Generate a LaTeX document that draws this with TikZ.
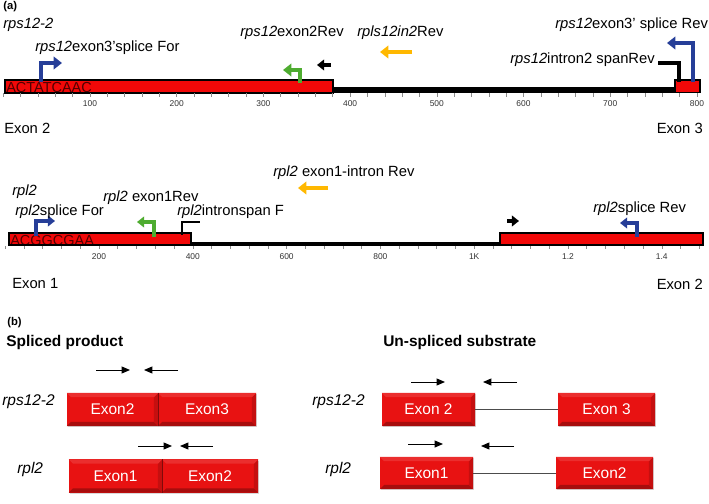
\documentclass[tikz,border=0pt]{standalone}
\usepackage{fontspec}
\setmainfont{Liberation Sans}
\usetikzlibrary{arrows.meta, positioning, shadows}

\definecolor{trackred}{RGB}{242,8,8}
\definecolor{seqred}{RGB}{80,0,0}
\definecolor{exred}{RGB}{232,18,18}
\definecolor{primerblue}{RGB}{38,62,152}
\definecolor{primergreen}{RGB}{78,172,48}
\definecolor{primerorange}{RGB}{255,184,0}

\tikzset{
  lbl/.style={font=\fontsize{10.5}{12}\selectfont, inner sep=0pt, anchor=west},
  head/.style={font=\bfseries\fontsize{11}{13}\selectfont, inner sep=0pt, anchor=west},
  panel/.style={font=\bfseries\fontsize{8}{9}\selectfont, inner sep=0pt, anchor=west},
  ticklbl/.style={font=\fontsize{6}{7}\selectfont, inner sep=0pt, text=black!80},
  tickmark/.style={black!45, line width=0.4pt},
  seq/.style={font=\fontsize{10.3}{12}\selectfont, text=seqred, inner sep=0pt, anchor=base west},
  primer/.style={line width=3.2pt, -{Triangle[length=6pt, width=9pt]}},
  smallprimer/.style={line width=2.6pt, -{Triangle[length=5pt, width=7.5pt]}},
  bracket/.style={line width=2.2pt},
  pcr/.style={line width=0.7pt, -{Triangle[length=6pt, width=5pt]}},
  seam/.style={exred!55!black, line width=0.5pt},
  exonbox/.style={fill=exred, text=white, font=\fontsize{11}{13}\selectfont,
    minimum height=0.825cm, inner sep=0pt, outer sep=0pt,
    drop shadow={opacity=0.3, shadow xshift=0.6pt, shadow yshift=-0.8pt},
    path picture={
      \fill[exred!72!black] (path picture bounding box.south west) -- ++(3pt,3pt)
        -- ([shift={(-3pt,3pt)}]path picture bounding box.south east)
        -- (path picture bounding box.south east) -- cycle;
      \fill[exred!85!black] (path picture bounding box.south east) -- ++(-3pt,3pt)
        -- ([shift={(-3pt,-3pt)}]path picture bounding box.north east)
        -- (path picture bounding box.north east) -- cycle;
      \fill[exred!88!white] (path picture bounding box.north west) -- ++(3pt,-3pt)
        -- ([shift={(-3pt,-3pt)}]path picture bounding box.north east)
        -- (path picture bounding box.north east) -- cycle;
    }},
}

\begin{document}
\begin{tikzpicture}[x=0.025cm, y=-0.025cm, >=Stealth]
  \useasboundingbox (0,0) rectangle (709,504);

  % (a) rps12-2 track
  \node[panel] (pa) at (3,7) {(a)};
  \node[lbl] (gA) at (3,25) {\textit{rps12-2}};
  \fill[trackred] (5,80) rectangle (333,93);
  \begin{scope}
    \clip (5,80) rectangle (333,93);
    \node[seq] (seqA) at (6,92.5) {ACTATCAAC};
  \end{scope}
  \draw[line width=0.8pt] (5,80) rectangle (333,93);
  \fill (333,87) rectangle (675,93);
  \draw[fill=trackred, line width=0.8pt] (675,80) rectangle (700,92.5);

  % escala 0-800
  \foreach \u in {0,20,...,800}
    \draw[tickmark] ({3.3+0.867*\u},93.5) -- ++(0,3.5);
  \foreach \u in {100,200,...,800}
    \node[ticklbl] (tA\u) at ({3.3+0.867*\u},104) {\u};

  % primers rps12
  \draw[primer, primerblue] (41,82) |- (62,63);
  \node[lbl] (pA1) at (35,48) {\textit{rps12}exon3'splice For};
  \draw[primer, primergreen, line width=2.8pt] (300,83) |- (283,70);
  \node[lbl] (pA2) at (240,33) {\textit{rps12}exon2Rev};
  \draw[smallprimer, black] (331,65) -- (317,65);
  \draw[primer, primerorange, line width=3pt] (412,52) -- (380,52);
  \node[lbl] (pA3) at (357,33) {\textit{rpls12in2}Rev};
  \draw[primer, primerblue] (693,82) |- (667,43);
  \node[lbl] (pA4) at (555,25) {\textit{rps12}exon3' splice Rev};
  \draw[bracket] (658,63) -| (679,82);
  \node[lbl] (pA5) at (510,60) {\textit{rps12}intron2 spanRev};

  \node[lbl] (exA2) at (4,128) {Exon 2};
  \node[lbl, anchor=east] (exA3) at (703,128) {Exon 3};

  % rpl2 track
  \node[lbl] (gB) at (12,192) {\textit{rpl2}};
  \fill[trackred] (9,233) rectangle (191,245);
  \begin{scope}
    \clip (9,233) rectangle (191,245);
    \node[seq] (seqB) at (10,245) {ACGGCGAA};
  \end{scope}
  \draw[line width=0.8pt] (9,233) rectangle (191,245);
  \fill (191,242.3) rectangle (500,245.8);
  \draw[fill=trackred, line width=0.8pt] (500,233) rectangle (703,245);

  % escala 0-1.5K
  \foreach \u in {0,40,...,1480}
    \draw[tickmark] ({5.2+0.469*\u},246) -- ++(0,3.5);
  \foreach \u/\t in {200/200,400/400,600/600,800/800,1000/1K,1200/1.2,1400/1.4}
    \node[ticklbl] (tB\u) at ({5.2+0.469*\u},257) {\t};

  % primers rpl2
  \draw[smallprimer, primerblue] (36,236) |- (55,221);
  \node[lbl] (pB1) at (15,212) {\textit{rpl2}splice For};
  \draw[smallprimer, primergreen] (154,237) |- (137,222);
  \node[lbl] (pB2) at (103,198) {\textit{rpl2} exon1Rev};
  \draw[bracket, line width=1.8pt] (182,235) |- (200,222);
  \node[lbl] (pB3) at (177,212) {\textit{rpl2}intronspan F};
  \draw[primer, primerorange, line width=3pt] (328,188) -- (298,188);
  \node[lbl] (pB4) at (273,173) {\textit{rpl2} exon1-intron Rev};
  \draw[smallprimer, black, line width=2.2pt] (507,221) -- (519,221);
  \draw[smallprimer, primerblue] (637,237) |- (620,223);
  \node[lbl] (pB5) at (593,209) {\textit{rpl2}splice Rev};

  \node[lbl] (exB1) at (12,283) {Exon 1};
  \node[lbl, anchor=east] (exB2) at (703,284) {Exon 2};

  % (b) spliced product
  \node[panel] (pb) at (7,323) {(b)};
  \node[head] (hS) at (6,342) {Spliced product};
  \node[lbl, font=\fontsize{11}{13}\selectfont] (gS1) at (2,402) {\textit{rps12-2}};
  \node[exonbox, minimum width=2.275cm] (se2) at (112.5,409.5) {Exon2};
  \node[exonbox, minimum width=2.45cm, right=0pt of se2] (se3) {Exon3};
  \draw[seam] (se2.north east) -- (se2.south east);
  \draw[pcr] (96,370) -- (130,370);
  \draw[pcr] (178,370) -- (144,370);
  \node[lbl, font=\fontsize{11}{13}\selectfont] (gS2) at (17,469) {\textit{rpl2}};
  \node[exonbox, minimum width=2.325cm] (sr1) at (115.5,476) {Exon1};
  \node[exonbox, minimum width=2.4cm, right=0pt of sr1] (sr2) {Exon2};
  \draw[seam] (sr1.north east) -- (sr1.south east);
  \draw[pcr] (138,446) -- (172,446);
  \draw[pcr] (213,446) -- (180,446);

  % un-spliced substrate
  \node[head] (hU) at (383,342) {Un-spliced substrate};
  \node[lbl, font=\fontsize{11}{13}\selectfont] (gU1) at (312,402) {\textit{rps12-2}};
  \node[exonbox, minimum width=2.325cm] (ue2) at (428.5,409.5) {Exon 2};
  \node[exonbox, minimum width=2.425cm, right=2.075cm of ue2] (ue3) {Exon 3};
  \draw[black!70, line width=0.6pt] (ue2) -- (ue3);
  \draw[pcr] (411,382) -- (445,382);
  \draw[pcr] (517,382) -- (483,382);
  \node[lbl, font=\fontsize{11}{13}\selectfont] (gU2) at (325,469) {\textit{rpl2}};
  \node[exonbox, minimum width=2.325cm, minimum height=0.8cm] (ur1) at (426.5,473) {Exon1};
  \node[exonbox, minimum width=2.425cm, minimum height=0.8cm, right=2.075cm of ur1] (ur2) {Exon2};
  \draw[black!70, line width=0.6pt] (ur1) -- (ur2);
  \draw[pcr] (408,444) -- (443,444);
  \draw[pcr] (514,446) -- (481,446);

\end{tikzpicture}
\end{document}
